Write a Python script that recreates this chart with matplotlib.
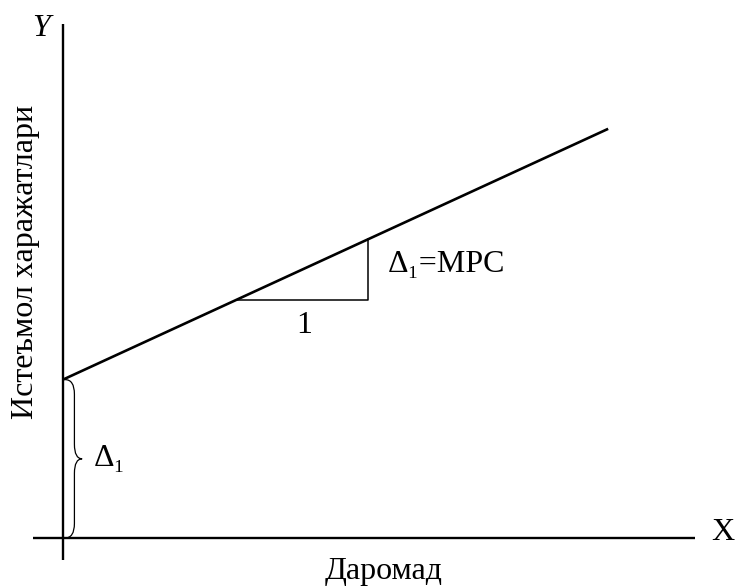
import numpy as np
import matplotlib
matplotlib.use('Agg')
import matplotlib.pyplot as plt
from matplotlib.path import Path
from matplotlib.patches import PathPatch

plt.rcParams['font.family'] = ['Liberation Serif', 'DejaVu Serif']

# consumption function C = a + MPC * Y  (units: triangle run = 1)
intercept = 1.2
mpc = 0.46
income_end = 4.13
tri_x0 = 1.31
x_label = 'Даромад'
y_label = 'Истеъмол харажатлари'

fig = plt.figure(figsize=(7.36, 5.86), dpi=100)
ax = fig.add_axes([0, 0, 1, 1])
s = 132.0  # px per unit
ax.set_xlim(-63 / s, (736 - 63) / s)
ax.set_ylim((538 - 586) / s, 538 / s)
ax.axis('off')

# axes
ax.plot([-30 / s, 632 / s], [0, 0], color='black', lw=1.7, solid_capstyle='butt')
ax.plot([0, 0], [-22 / s, 514 / s], color='black', lw=1.7, solid_capstyle='butt')

# consumption line
xs = np.array([0, income_end])
ax.plot(xs, intercept + mpc * xs, color='black', lw=1.9, solid_capstyle='butt')

# slope triangle
y0 = intercept + mpc * tri_x0
ax.plot([tri_x0, tri_x0 + 1, tri_x0 + 1], [y0, y0, y0 + mpc], color='black', lw=1.1)

# curly brace for the intercept
bx, w, h = 0.015, 0.13, intercept
m = h / 2
r = 0.11
verts = [(bx, 0), (bx + w * 0.55, 0), (bx + w * 0.55, r),
         (bx + w * 0.55, m - r),
         (bx + w * 0.55, m), (bx + w, m),
         (bx + w * 0.55, m), (bx + w * 0.55, m + r),
         (bx + w * 0.55, h - r),
         (bx + w * 0.55, h), (bx, h)]
codes = [Path.MOVETO, Path.CURVE3, Path.CURVE3, Path.LINETO,
         Path.CURVE3, Path.CURVE3, Path.CURVE3, Path.CURVE3,
         Path.LINETO, Path.CURVE3, Path.CURVE3]
ax.add_patch(PathPatch(Path(verts, codes), fill=False, lw=0.9, color='black'))

fs = 23
ax.text(-22 / s, 510 / s, 'Y', fontsize=fs, style='italic', ha='center', va='center')
ax.text(660 / s, 6 / s, 'X', fontsize=fs, ha='center', va='center')
ax.text(321 / s, -33 / s, x_label, fontsize=fs, ha='center', va='center')
ax.text(-38 / s, 276 / s, y_label, fontsize=fs, rotation=90, ha='center', va='center')
ax.text(bx + w + 0.09, m, 'Δ₁', fontsize=fs, ha='left', va='center')
ax.text(tri_x0 + 1 + 0.15, y0 + mpc / 2 + 0.04, 'Δ₁=MPC', fontsize=fs, ha='left', va='center')
ax.text(tri_x0 + 0.52, y0 - 0.19, '1', fontsize=fs, ha='center', va='center')

fig.savefig('out.png', dpi=100)
